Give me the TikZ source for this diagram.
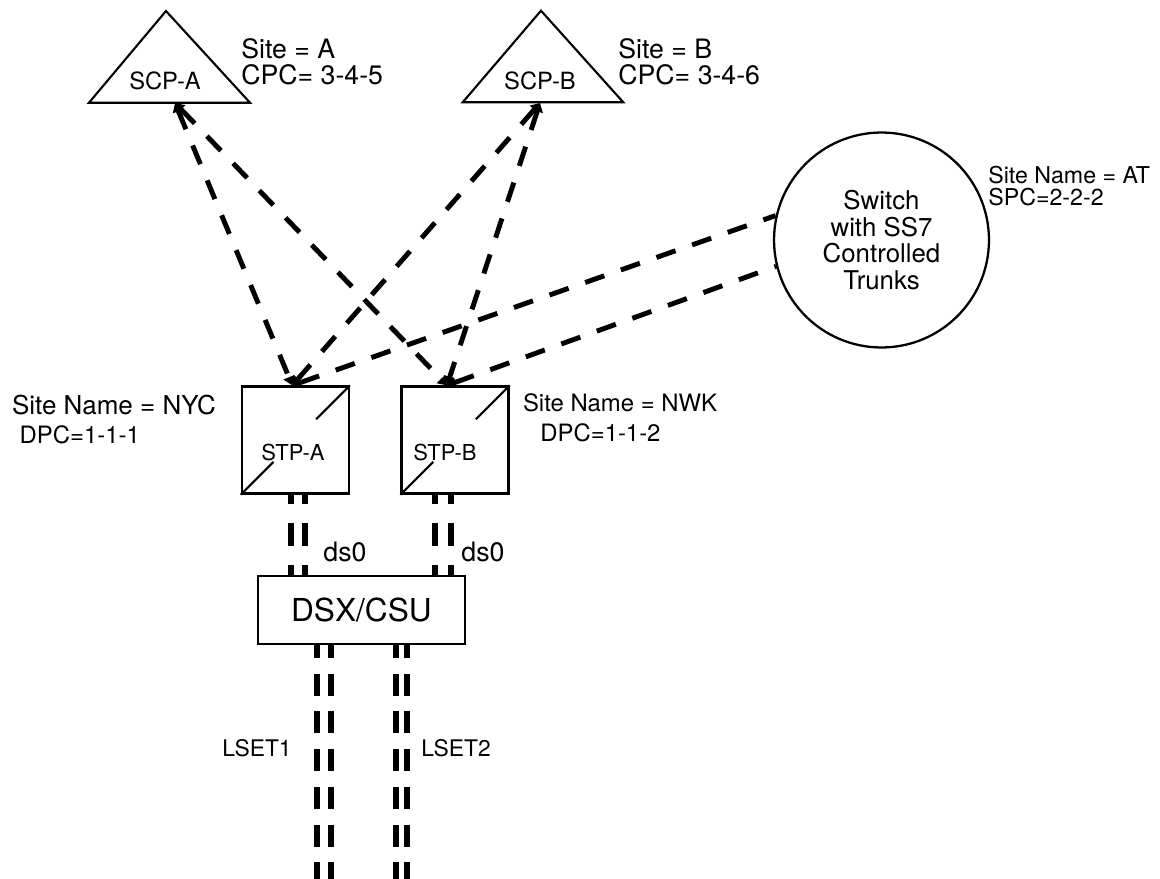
\documentclass[tikz,border=0pt]{standalone}
\usepackage{fontspec}
\setmainfont{TeX Gyre Heros}
\usetikzlibrary{arrows.meta,calc}

\tikzset{
  shapeline/.style={draw, line width=1.3pt},
  siglink/.style={line width=2.8pt, dash pattern=on 11.5pt off 10pt},
  tipboth/.style={{Triangle[length=5pt,width=6.5pt]}-{Triangle[length=5pt,width=6.5pt]}},
  tipstart/.style={{Triangle[length=5pt,width=6.5pt]}-},
  trunkup/.style={line width=3.4pt, dash pattern=on 13.2pt off 10.8pt, dash phase=7.7pt},
  trunkdown/.style={line width=3.4pt, dash pattern=on 12.5pt off 9pt, dash phase=5.3pt},
  lbl/.style={inner sep=0pt, anchor=west, align=left},
}
\newcommand{\sitefont}{\fontsize{15.2}{15}\selectfont}
\newcommand{\namefont}{\fontsize{13.6}{13.6}\selectfont}

\begin{document}
\begin{tikzpicture}[x=0.02cm, y=-0.02cm]
    \useasboundingbox (0,0) rectangle (1160,879);

    \draw[line width=1.2pt] (89,102.7) -- (166,11) -- (250,102.7) -- cycle;
    \draw[line width=1.2pt] (462.7,102.3) -- (541,10.7) -- (623.3,102.3) -- cycle;
    \node[font=\fontsize{13.5}{13.5}\selectfont] (scpatxt) at (165,81) {SCP-A};
    \node[font=\fontsize{13.5}{13.5}\selectfont] (scpbtxt) at (540,81) {SCP-B};
    \coordinate (scpa) at (175,103);
    \coordinate (scpb) at (540,103);
    \node[lbl, font=\sitefont] (sitea) at (241,62) {Site = A\\CPC= 3-4-5};
    \node[lbl, font=\sitefont] (siteb) at (618,62) {Site = B\\CPC= 3-4-6};

    \node[circle, shapeline, minimum size=4.3cm, inner sep=0pt, align=center,
          font=\fontsize{14.7}{15.2}\selectfont] (sw) at (881.5,240)
          {Switch\\ with SS7\\Controlled\\Trunks};
    \node[lbl, font=\fontsize{13.2}{12.9}\selectfont] (siteat) at (988,186) {Site Name = AT\\SPC=2-2-2};

    \node[shapeline, minimum size=2.14cm] (stpa) at (295.3,440) {};
    \node[shapeline, minimum size=2.14cm] (stpb) at (455,440) {};
    \node[font=\fontsize{12.5}{12.5}\selectfont] (stpatxt) at (293,452) {STP-A};
    \node[font=\fontsize{12.5}{12.5}\selectfont] (stpbtxt) at (445,452) {STP-B};
    \foreach \n in {stpa,stpb} {
        \draw[line width=1.2pt] (\n.south west) -- ($(\n.south west)!0.3!(\n.north east)$);
        \draw[line width=1.2pt] ($(\n.south west)!0.69!(\n.north east)$) -- (\n.north east);
    }
    \node[lbl, font=\fontsize{14.8}{14.8}\selectfont] (nyc) at (11.7,405) {Site Name = NYC};
    \node[lbl, font=\namefont] (nycdpc) at (19.3,435) {DPC=1-1-1};
    \node[lbl, font=\namefont] (nwk) at (522.7,402.7) {Site Name = NWK};
    \node[lbl, font=\namefont] (nwkdpc) at (540,432.7) {DPC=1-1-2};

    \coordinate (stpa-in) at ($(stpa.north)+(-3,0)$);
    \coordinate (stpb-in) at ($(stpb.north)+(-8,0)$);
    \draw[siglink, tipboth] (scpa) -- (stpa-in);
    \draw[siglink, tipboth] (scpa) -- (stpb-in);
    \draw[siglink, tipboth] (scpb) -- (stpa-in);
    \draw[siglink, tipboth] (scpb) -- (stpb-in);
    \draw[siglink, tipstart] (stpa-in) -- (sw.167);
    \draw[siglink, tipstart] (stpb-in) -- (sw.194);

    \node[shapeline, minimum width=4.14cm, minimum height=1.36cm,
          font=\fontsize{18}{18}\selectfont] (dsx) at (361.4,610) {DSX/CSU};

    \foreach \dx in {-4.6,9.4}
        \draw[trunkup] ($(stpa.south)+(\dx,0)$) coordinate (t) -- (t |- dsx.north);
    \foreach \dx in {-20,-4.3}
        \draw[trunkup] ($(stpb.south)+(\dx,0)$) coordinate (t) -- (t |- dsx.north);
    \node[font=\sitefont] (ds0a) at (345,552) {ds0};
    \node[font=\sitefont] (ds0b) at (483,552) {ds0};

    \coordinate (lsetend) at (0,879);
    \foreach \x in {316.7,331.3,396,407.3}
        \draw[trunkdown] (\x,0 |- dsx.south) coordinate (t) -- (t |- lsetend);
    \node[inner sep=0pt, anchor=east, font=\fontsize{13}{13}\selectfont] (lset1) at (292,748) {LSET1};
    \node[lbl, font=\fontsize{13}{13}\selectfont] (lset2) at (421,748) {LSET2};
\end{tikzpicture}
\end{document}
